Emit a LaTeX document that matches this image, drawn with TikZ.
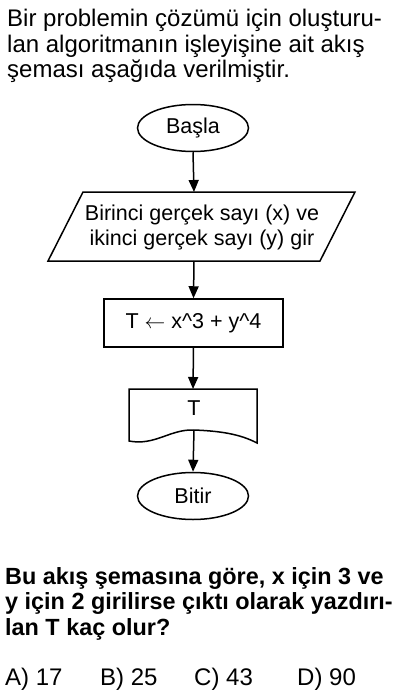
\documentclass[tikz,border=0pt]{standalone}
\usepackage{fontspec}
\setmainfont{Liberation Sans}
\usetikzlibrary{shapes.geometric,arrows.meta}
\begin{document}
\begin{tikzpicture}[x=1pt,y=-1pt,
  txt/.style={font=\fontsize{24}{25}\selectfont, anchor=base west, inner sep=0},
  qtxt/.style={txt, font=\fontsize{23.4}{25}\selectfont\bfseries},
  fc/.style={draw, line width=1.5pt},
  ftext/.style={font=\fontsize{21.5}{25}\selectfont, inner sep=0},
  term/.style={fc, ellipse, minimum width=111pt, minimum height=47pt, inner sep=0, ftext},
  arr/.style={line width=1.5pt, -{Triangle[length=12pt,width=10pt]}}
]
\useasboundingbox (0,0) rectangle (400,696);
\fill[white] (0,0) rectangle (400,696);

% heading
\node[txt] (h1) at (7,27) {Bir problemin çözümü için oluşturu-};
\node[txt] (h2) at (7,52) {lan algoritmanın işleyişine ait akış};
\node[txt] (h3) at (7,77) {şeması aşağıda verilmiştir.};

% start
\node[term] (start) at (193,128) {Başla};

% input parallelogram
\coordinate (pTL) at (83,192);
\coordinate (pTR) at (355,192);
\coordinate (pBR) at (320,261);
\coordinate (pBL) at (48,261);
\draw[fc] (pTL) -- (pTR) -- (pBR) -- (pBL) -- cycle;
\coordinate (inT) at (194,192);
\coordinate (inB) at (194,261);
\node[ftext, anchor=base] (in1) at (202,220) {Birinci gerçek sayı (x) ve};
\node[ftext, anchor=base] (in2) at (202,245) {ikinci gerçek sayı (y) gir};

% process
\node[fc, ftext, minimum width=179pt, minimum height=48pt] (proc) at (193.5,323)
  {T $\leftarrow$ x\textasciicircum 3 + y\textasciicircum 4};

% output document
\coordinate (dTL) at (129,389);
\coordinate (dTR) at (257,389);
\coordinate (dTop) at (193,389);
\coordinate (dCrest) at (194,430);
\draw[fc] (dTL) -- (dTR) -- (257,443)
  .. controls (240,434) and (220,431) .. (dCrest)
  .. controls (170,429) and (155,446) .. (129,441) -- cycle;
\node[ftext, anchor=base] (outT) at (194,415) {T};

% end
\node[term] (stop) at (193,496) {Bitir};

% connectors
\draw[arr] (start.south) -- (inT);
\draw[arr] (inB) -- (proc.north);
\draw[arr] (proc.south) -- (dTop);
\draw[arr] (dCrest) -- (stop.north);

% question
\node[qtxt] (q1) at (5,584) {Bu akış şemasına göre, x için 3 ve};
\node[qtxt] (q2) at (5,609.5) {y için 2 girilirse çıktı olarak yazdırı-};
\node[qtxt] (q3) at (5,635) {lan T kaç olur?};

% answers
\node[txt] (a) at (5,685) {A) 17};
\node[txt] (b) at (100,685) {B) 25};
\node[txt] (c) at (194,685) {C) 43};
\node[txt] (d) at (297,685) {D) 90};
\end{tikzpicture}
\end{document}
